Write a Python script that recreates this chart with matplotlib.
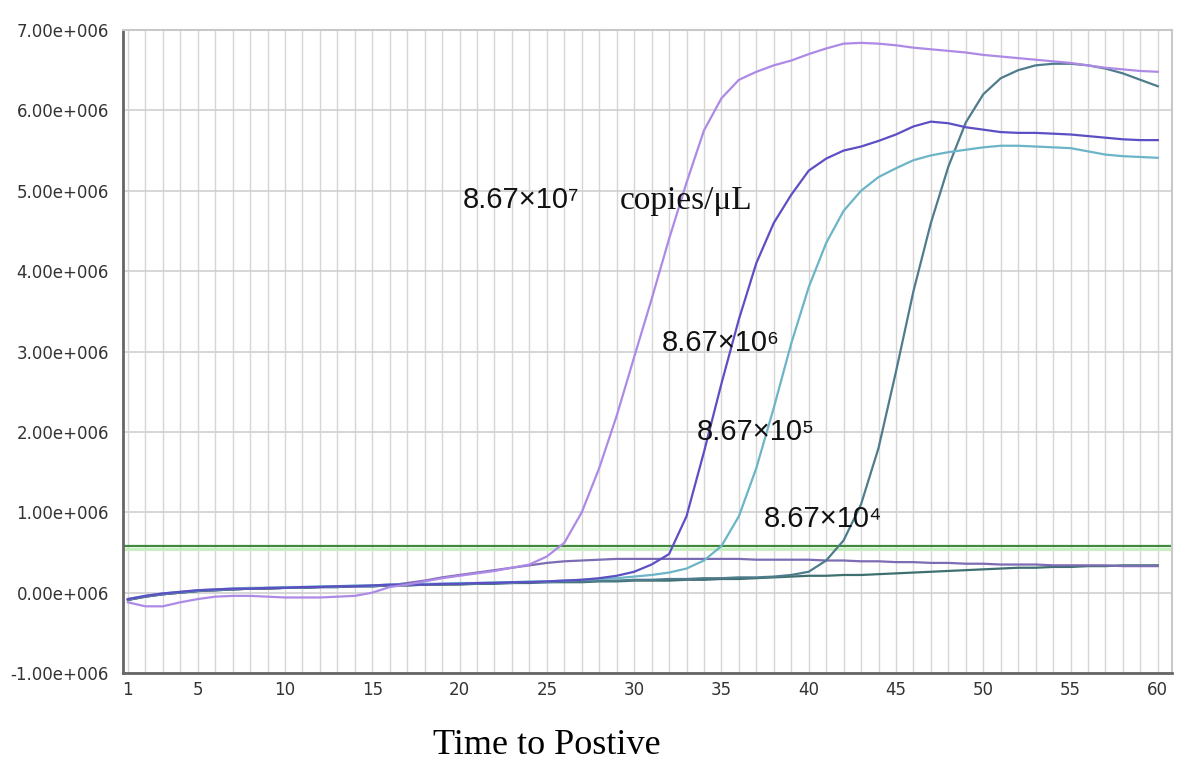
import matplotlib
matplotlib.use("Agg")
import matplotlib.pyplot as plt
import numpy as np

# ---------------------------------------------------------
# Data: fluorescence (x 1e6) per cycle
# ---------------------------------------------------------
cycles = list(range(1, 61))

conc_1e7 = [-0.12, -0.17, -0.17, -0.12, -0.08, -0.05, -0.04, -0.04, -0.05, -0.06,
            -0.06, -0.06, -0.05, -0.04, 0.00, 0.07, 0.10, 0.14, 0.18, 0.21,
            0.24, 0.27, 0.31, 0.35, 0.45, 0.62, 1.00, 1.55, 2.20, 2.93,
            3.65, 4.40, 5.10, 5.75, 6.15, 6.38, 6.48, 6.56, 6.62, 6.70,
            6.77, 6.83, 6.84, 6.83, 6.81, 6.78, 6.76, 6.74, 6.72, 6.69,
            6.67, 6.65, 6.63, 6.61, 6.59, 6.56, 6.53, 6.51, 6.49, 6.48]

conc_1e6 = [-0.08, -0.04, -0.01, 0.01, 0.03, 0.04, 0.05, 0.05, 0.06, 0.06,
            0.07, 0.07, 0.08, 0.08, 0.09, 0.10, 0.10, 0.10, 0.11, 0.11,
            0.12, 0.12, 0.13, 0.13, 0.14, 0.15, 0.16, 0.18, 0.21, 0.26,
            0.35, 0.48, 0.95, 1.75, 2.60, 3.40, 4.10, 4.60, 4.95, 5.25,
            5.40, 5.50, 5.55, 5.62, 5.70, 5.80, 5.86, 5.84, 5.79, 5.76,
            5.73, 5.72, 5.72, 5.71, 5.70, 5.68, 5.66, 5.64, 5.63, 5.63]

conc_1e5 = [-0.08, -0.04, -0.01, 0.01, 0.03, 0.04, 0.05, 0.06, 0.06, 0.07,
            0.07, 0.08, 0.08, 0.09, 0.09, 0.10, 0.10, 0.11, 0.11, 0.12,
            0.12, 0.13, 0.13, 0.14, 0.14, 0.15, 0.16, 0.17, 0.18, 0.20,
            0.22, 0.25, 0.30, 0.40, 0.58, 0.95, 1.55, 2.30, 3.10, 3.80,
            4.35, 4.75, 5.00, 5.17, 5.28, 5.38, 5.44, 5.48, 5.51, 5.54,
            5.56, 5.56, 5.55, 5.54, 5.53, 5.49, 5.45, 5.43, 5.42, 5.41]

conc_1e4 = [-0.09, -0.05, -0.02, 0.00, 0.02, 0.03, 0.04, 0.05, 0.05, 0.06,
            0.06, 0.07, 0.07, 0.08, 0.08, 0.09, 0.09, 0.10, 0.10, 0.11,
            0.11, 0.12, 0.12, 0.13, 0.13, 0.14, 0.14, 0.15, 0.15, 0.16,
            0.16, 0.17, 0.17, 0.18, 0.18, 0.19, 0.19, 0.20, 0.22, 0.26,
            0.40, 0.65, 1.10, 1.80, 2.75, 3.75, 4.60, 5.30, 5.85, 6.20,
            6.40, 6.50, 6.56, 6.58, 6.58, 6.56, 6.52, 6.46, 6.38, 6.30]

neg_a = [-0.09, -0.05, -0.02, 0.00, 0.02, 0.03, 0.04, 0.05, 0.05, 0.06,
         0.06, 0.07, 0.07, 0.08, 0.08, 0.09, 0.12, 0.15, 0.19, 0.22,
         0.25, 0.28, 0.31, 0.34, 0.37, 0.39, 0.40, 0.41, 0.42, 0.42,
         0.42, 0.42, 0.42, 0.42, 0.42, 0.42, 0.41, 0.41, 0.41, 0.41,
         0.40, 0.40, 0.39, 0.39, 0.38, 0.38, 0.37, 0.37, 0.36, 0.36,
         0.35, 0.35, 0.35, 0.34, 0.34, 0.34, 0.34, 0.33, 0.33, 0.33]

neg_b = [-0.09, -0.05, -0.02, 0.00, 0.02, 0.03, 0.04, 0.05, 0.05, 0.06,
         0.06, 0.07, 0.07, 0.08, 0.08, 0.09, 0.09, 0.10, 0.10, 0.10,
         0.11, 0.11, 0.12, 0.12, 0.13, 0.13, 0.13, 0.14, 0.14, 0.15,
         0.15, 0.15, 0.16, 0.16, 0.17, 0.17, 0.18, 0.19, 0.20, 0.21,
         0.21, 0.22, 0.22, 0.23, 0.24, 0.25, 0.26, 0.27, 0.28, 0.29,
         0.30, 0.31, 0.31, 0.32, 0.32, 0.33, 0.33, 0.34, 0.34, 0.34]

threshold = 0.58

series = [neg_b, neg_a, conc_1e4, conc_1e5, conc_1e6, conc_1e7]
colors = ['#3f6f70', '#7c6cb4', '#4f7c8c', '#6cb4c8', '#5c4fc4', '#ad8ae6']

labels = ['8.67×10⁷', '8.67×10⁶', '8.67×10⁵', '8.67×10⁴']
label_pos = [(20.2, 4.88), (31.6, 3.10), (33.6, 2.00), (37.4, 0.92)]

ytick_vals = list(range(-1, 8))
xtick_vals = [1, 5, 10, 15, 20, 25, 30, 35, 40, 45, 50, 55, 60]

# ---------------------------------------------------------
# Plot
# ---------------------------------------------------------
fig = plt.figure(figsize=(12, 7.77), dpi=100)
ax = fig.add_axes([0.1025, 0.1338, 0.874, 0.8276])

# grid
for c in cycles:
    ax.axvline(c, color='#d6d6d6', lw=1.0, zorder=0)
for v in ytick_vals:
    ax.axhline(v, color='#d0d0d0', lw=1.2, zorder=0)

# threshold line
ax.axhline(threshold - 0.035, color='#c2efba', lw=2.0, zorder=1)
ax.axhline(threshold, color='#3f8a3a', lw=1.6, zorder=2)

for vals, col in zip(series, colors):
    ax.plot(cycles, vals, color=col, lw=1.6, zorder=3)

ax.set_xlim(0.72, 60.8)
ax.set_ylim(-1, 7)

ax.set_xticks(xtick_vals)
ax.set_yticks(ytick_vals)
ax.set_yticklabels(['%.2fe+006' % v for v in ytick_vals])
tick_font = ['Liberation Sans Narrow', 'DejaVu Sans']
for t in ax.get_xticklabels() + ax.get_yticklabels():
    t.set_family(tick_font)
    t.set_fontsize(12)
    t.set_color('#333333')
ax.tick_params(axis='both', length=0)
ax.tick_params(axis='y', pad=10)
ax.tick_params(axis='x', pad=6)

for s in ['left', 'bottom']:
    ax.spines[s].set_color('#666666')
    ax.spines[s].set_linewidth(2.0)
for s in ['top', 'right']:
    ax.spines[s].set_color('#c8c8c8')
    ax.spines[s].set_linewidth(1.5)

# annotations
for txt, (lx, ly) in zip(labels, label_pos):
    ax.text(lx, ly, txt, fontsize=21, family=['Liberation Sans', 'DejaVu Sans'],
            ha='left', va='center', color='#111111', zorder=5)
ax.text(29.2, 4.88, 'copies/μL', fontsize=24, family=['Liberation Serif', 'DejaVu Serif'],
        ha='left', va='center', color='#111111', zorder=5)

fig.text(0.361, 0.04, 'Time to Postive', fontsize=26,
         family=['Liberation Serif', 'DejaVu Serif'], ha='left', va='center')

fig.savefig('out.png', dpi=100)
